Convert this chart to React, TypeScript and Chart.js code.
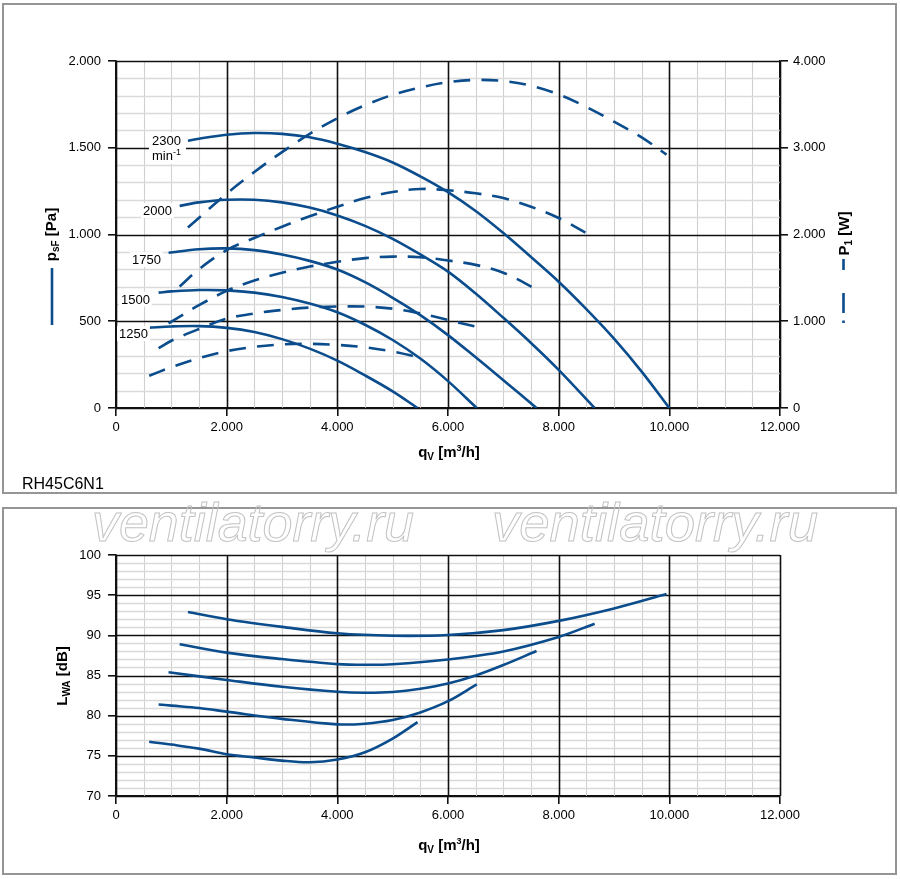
import React, { useEffect, useRef } from 'react';
import { Chart, registerables } from 'chart.js';

Chart.register(...registerables);

const FONT = '"Liberation Sans", Arial, Helvetica, sans-serif';
const BLUE = '#0b4c8c';
const MAJOR = '#111111';
const MINOR_V = '#d0d0d0';
const MINOR_H = '#dadada';

// ---------- Top chart: static pressure p_sF [Pa] (solid, left axis) ----------
const Q_P2300 = [1300, 1500, 2000, 2500, 3000, 3500, 4000, 4500, 5000, 5500, 6000, 6500, 7000, 7500, 8000, 8500, 9000, 9500, 10000];
const P_2300 = [1540, 1552, 1575, 1585, 1580, 1560, 1523, 1475, 1415, 1335, 1244, 1135, 1008, 870, 728, 570, 400, 210, 0];
const Q_P2000 = [1150, 1500, 2000, 2500, 3000, 3500, 4000, 4500, 5000, 5500, 6000, 6500, 7000, 7500, 8000, 8650];
const P_2000 = [1165, 1185, 1200, 1200, 1185, 1155, 1110, 1050, 975, 885, 786, 660, 520, 375, 220, 0];
const Q_P1750 = [950, 1500, 2000, 2500, 3000, 3500, 4000, 4500, 5000, 5500, 6000, 6500, 7000, 7600];
const P_1750 = [895, 915, 920, 910, 885, 848, 798, 725, 635, 535, 420, 292, 160, 0];
const Q_P1500 = [770, 1000, 1500, 2000, 2500, 3000, 3500, 4000, 4500, 5000, 5500, 6000, 6520];
const P_1500 = [665, 672, 680, 678, 665, 640, 602, 552, 480, 392, 285, 155, 0];
const Q_P1250 = [600, 1000, 1500, 2000, 2500, 3000, 3500, 4000, 4500, 5000, 5450];
const P_1250 = [463, 470, 472, 462, 438, 397, 342, 273, 188, 96, 0];

// ---------- Top chart: input power P1 [W] (dashed, right axis) ----------
const Q_W2300 = [1300, 2000, 2500, 3000, 3500, 4000, 4500, 5000, 5500, 6000, 6500, 7000, 7500, 8000, 8500, 9000, 9500, 9950];
const W_2300 = [2080, 2470, 2720, 2950, 3160, 3340, 3490, 3610, 3695, 3755, 3782, 3770, 3715, 3615, 3470, 3300, 3120, 2920];
const Q_W2000 = [1150, 1500, 2000, 2500, 3000, 3500, 4000, 4500, 5000, 5500, 6000, 6500, 7000, 7500, 8000, 8650];
const W_2000 = [1400, 1600, 1820, 1960, 2090, 2210, 2320, 2420, 2490, 2525, 2510, 2475, 2420, 2320, 2190, 1960];
const Q_W1750 = [950, 1500, 2000, 2500, 3000, 3500, 4000, 4500, 5000, 5500, 6000, 6500, 7000, 7600];
const W_1750 = [976, 1185, 1350, 1470, 1560, 1630, 1685, 1728, 1745, 1738, 1700, 1650, 1560, 1368];
const Q_W1500 = [770, 1000, 1500, 2000, 2500, 3000, 3500, 4000, 4500, 5000, 5500, 6000, 6520];
const W_1500 = [690, 775, 910, 1030, 1090, 1130, 1158, 1170, 1169, 1145, 1090, 1015, 935];
const Q_W1250 = [600, 1000, 1500, 2000, 2500, 3000, 3500, 4000, 4500, 5000, 5450];
const W_1250 = [372, 470, 575, 655, 705, 733, 740, 727, 700, 650, 588];

// ---------- Bottom chart: sound power L_WA [dB] ----------
const Q_L2300 = [1300, 2000, 3000, 4000, 5000, 6000, 7000, 8000, 9000, 9950];
const L_2300 = [92.9, 92.0, 91.05, 90.25, 89.95, 90.05, 90.65, 91.8, 93.35, 95.15];
const Q_L2000 = [1150, 2000, 3000, 4000, 4500, 5000, 6000, 7000, 8000, 8650];
const L_2000 = [88.9, 87.85, 87.05, 86.42, 86.33, 86.4, 87.0, 88.0, 89.8, 91.45];
const Q_L1750 = [950, 2000, 3000, 4000, 4500, 5000, 5500, 6000, 6500, 7000, 7600];
const L_1750 = [85.4, 84.45, 83.6, 82.97, 82.85, 82.95, 83.35, 84.0, 85.0, 86.3, 88.05];
const Q_L1500 = [770, 1000, 1500, 2000, 3000, 4000, 4500, 5000, 5500, 6000, 6520];
const L_1500 = [81.4, 81.25, 80.95, 80.5, 79.6, 78.92, 79.0, 79.45, 80.4, 81.8, 83.9];
const Q_L1250 = [600, 1000, 1500, 2000, 2500, 3000, 3500, 4000, 4500, 5000, 5450];
const L_1250 = [76.75, 76.4, 75.9, 75.2, 74.8, 74.4, 74.2, 74.55, 75.45, 77.15, 79.2];

// ---------- Labels ----------
const SPEED_LABELS = ['2300', '2000', '1750', '1500', '1250'];
const WATERMARK = 'ventilatorry.ru';
const MODEL = 'RH45C6N1';

const fmt = (v: number) =>
  v >= 1000 ? `${Math.floor(v / 1000)}.${String(v % 1000).padStart(3, '0')}` : String(v);

const pts = (q: number[], v: number[]) => q.map((x, i) => ({ x, y: v[i] }));

type Part = { t: string; s: number; b?: boolean; dy?: number };
function drawRich(ctx: CanvasRenderingContext2D, parts: Part[], x: number, y: number, align: 'left' | 'center') {
  ctx.save();
  ctx.textBaseline = 'alphabetic';
  ctx.textAlign = 'left';
  const f = (p: Part) => `${p.b ? 'bold ' : ''}${p.s}px ${FONT}`;
  let w = 0;
  for (const p of parts) {
    ctx.font = f(p);
    w += ctx.measureText(p.t).width;
  }
  let cx = align === 'center' ? x - w / 2 : x;
  for (const p of parts) {
    ctx.font = f(p);
    ctx.fillText(p.t, cx, y + (p.dy || 0));
    cx += ctx.measureText(p.t).width;
  }
  ctx.restore();
  return w;
}

const solid = (data: { x: number; y: number }[], axis: string) => ({
  data,
  yAxisID: axis,
  borderColor: BLUE,
  borderWidth: 2.6,
  pointRadius: 0,
  fill: false,
  tension: 0.35,
});
const dashed = (data: { x: number; y: number }[], axis: string) => ({
  ...solid(data, axis),
  borderDash: [17, 11],
});

const isMajor = (v: number, base: number, step: number) => Math.abs(((v - base) / step) - Math.round((v - base) / step)) < 1e-6;

const xScale = (height: number) => ({
  type: 'linear' as const,
  position: 'bottom' as const,
  min: 0,
  max: 12000,
  afterFit: (s: any) => {
    s.height = height;
  },
  ticks: {
    stepSize: 500,
    autoSkip: false,
    maxRotation: 0,
    padding: 4,
    color: '#000',
    font: { size: 13, family: FONT },
    callback: (v: any) => (isMajor(Number(v), 0, 2000) ? fmt(Number(v)) : ''),
  },
  grid: {
    drawOnChartArea: false,
    color: MAJOR,
    lineWidth: 1.6,
    tickColor: (c: any) => (c.tick && isMajor(c.tick.value, 0, 2000) ? MAJOR : 'rgba(0,0,0,0)'),
    tickLength: 8,
    tickWidth: 1.6,
  },
  border: { display: true, color: MAJOR, width: 1.6 },
  title: { display: false },
});

const yScale = (min: number, max: number, step: number, major: number, width: number) => ({
  type: 'linear' as const,
  position: 'left' as const,
  min,
  max,
  afterFit: (s: any) => {
    s.width = width;
  },
  ticks: {
    stepSize: step,
    autoSkip: false,
    padding: 7,
    color: '#000',
    font: { size: 13, family: FONT },
    callback: (v: any) => (isMajor(Number(v), min, major) ? fmt(Number(v)) : ''),
  },
  grid: {
    drawOnChartArea: false,
    color: MAJOR,
    lineWidth: 1.6,
    tickColor: (c: any) => (c.tick && isMajor(c.tick.value, min, major) ? MAJOR : 'rgba(0,0,0,0)'),
    tickLength: 8,
    tickWidth: 1.6,
  },
  border: { display: true, color: MAJOR, width: 1.6 },
});

// grid drawn in two passes (minor first, then major) using the scales' own ticks
const makeGrid = (xMajor: number, yMajor: number) => ({
  id: 'twoPassGrid',
  beforeDatasetsDraw(chart: any) {
    const ctx: CanvasRenderingContext2D = chart.ctx;
    const a = chart.chartArea;
    const xs = chart.scales.x;
    const ys = chart.scales.y;
    const xT = xs.ticks.map((t: any) => t.value);
    const yT = ys.ticks.map((t: any) => t.value);
    const vline = (v: number) => {
      const p = Math.round(xs.getPixelForValue(v)) + 0.5;
      ctx.moveTo(p, a.top);
      ctx.lineTo(p, a.bottom);
    };
    const hline = (v: number) => {
      const p = Math.round(ys.getPixelForValue(v)) + 0.5;
      ctx.moveTo(a.left, p);
      ctx.lineTo(a.right, p);
    };
    ctx.save();
    ctx.lineWidth = 1.1;
    ctx.strokeStyle = MINOR_V;
    ctx.beginPath();
    xT.filter((v: number) => !isMajor(v, xs.min, xMajor)).forEach(vline);
    ctx.stroke();
    ctx.lineWidth = 1.4;
    ctx.strokeStyle = MINOR_H;
    ctx.beginPath();
    yT.filter((v: number) => !isMajor(v, ys.min, yMajor)).forEach(hline);
    ctx.stroke();
    ctx.lineWidth = 1.6;
    ctx.strokeStyle = MAJOR;
    ctx.beginPath();
    xT.filter((v: number) => isMajor(v, xs.min, xMajor)).forEach(vline);
    yT.filter((v: number) => isMajor(v, ys.min, yMajor)).forEach(hline);
    ctx.stroke();
    ctx.restore();
  },
});

function labelBox(ctx: CanvasRenderingContext2D, text: string, x: number, base: number) {
  ctx.font = `13px ${FONT}`;
  const w = ctx.measureText(text).width;
  ctx.fillStyle = '#fff';
  ctx.fillRect(x - 2, base - 12, w + 4, 15);
  ctx.fillStyle = '#000';
  ctx.textBaseline = 'alphabetic';
  ctx.textAlign = 'left';
  ctx.fillText(text, x, base);
}

const qTitle: Part[] = [
  { t: 'q', s: 15, b: true },
  { t: 'V', s: 10, b: true, dy: 3 },
  { t: ' [m', s: 15, b: true },
  { t: '3', s: 9, b: true, dy: -6 },
  { t: '/h]', s: 15, b: true },
];

const topDecor = {
  id: 'topDecor',
  afterDraw(chart: any) {
    const ctx: CanvasRenderingContext2D = chart.ctx;
    ctx.save();
    ctx.fillStyle = '#000';
    drawRich(ctx, qTitle, 449, 457, 'center');
    drawRich(ctx, [{ t: MODEL, s: 16 }], 22, 488.5, 'left');

    // left axis title + legend sample
    ctx.save();
    ctx.translate(56, 234.5);
    ctx.rotate(-Math.PI / 2);
    drawRich(
      ctx,
      [
        { t: 'p', s: 15, b: true },
        { t: 'sF', s: 10, b: true, dy: 3 },
        { t: ' [Pa]', s: 15, b: true },
      ],
      0,
      0,
      'center'
    );
    ctx.restore();
    ctx.strokeStyle = BLUE;
    ctx.lineWidth = 2.6;
    ctx.beginPath();
    ctx.moveTo(52, 268);
    ctx.lineTo(52, 325);
    ctx.stroke();

    // right axis title + legend sample
    ctx.save();
    ctx.translate(849, 233.5);
    ctx.rotate(-Math.PI / 2);
    drawRich(
      ctx,
      [
        { t: 'P', s: 15, b: true },
        { t: '1', s: 10, b: true, dy: 3 },
        { t: ' [W]', s: 15, b: true },
      ],
      0,
      0,
      'center'
    );
    ctx.restore();
    ctx.beginPath();
    ctx.moveTo(843.5, 259);
    ctx.lineTo(843.5, 270);
    ctx.moveTo(843.5, 293);
    ctx.lineTo(843.5, 313);
    ctx.moveTo(843.5, 320.5);
    ctx.lineTo(843.5, 323);
    ctx.stroke();

    // speed labels
    ctx.font = `13px ${FONT}`;
    const w1 = ctx.measureText('min').width;
    ctx.font = `9px ${FONT}`;
    const w2 = ctx.measureText('-1').width;
    ctx.fillStyle = '#fff';
    ctx.fillRect(149, 132, Math.max(w1 + w2, 30) + 7, 32);
    ctx.fillStyle = '#000';
    drawRich(ctx, [{ t: SPEED_LABELS[0], s: 13 }], 152, 145, 'left');
    drawRich(
      ctx,
      [
        { t: 'min', s: 13 },
        { t: '-1', s: 9, dy: -5 },
      ],
      152,
      160,
      'left'
    );
    labelBox(ctx, SPEED_LABELS[1], 143, 215);
    labelBox(ctx, SPEED_LABELS[2], 132, 264);
    labelBox(ctx, SPEED_LABELS[3], 121, 303.5);
    labelBox(ctx, SPEED_LABELS[4], 119, 338);
    ctx.restore();
  },
};

const botDecor = {
  id: 'botDecor',
  afterDraw(chart: any) {
    const ctx: CanvasRenderingContext2D = chart.ctx;
    ctx.save();
    ctx.fillStyle = '#000';
    drawRich(ctx, qTitle, 449, 350, 'center');
    ctx.save();
    ctx.translate(67, 176);
    ctx.rotate(-Math.PI / 2);
    drawRich(
      ctx,
      [
        { t: 'L', s: 15, b: true },
        { t: 'WA', s: 10, b: true, dy: 3 },
        { t: ' [dB]', s: 15, b: true },
      ],
      0,
      0,
      'center'
    );
    ctx.restore();
    ctx.restore();
  },
};

export default function App() {
  const topRef = useRef<HTMLCanvasElement>(null);
  const botRef = useRef<HTMLCanvasElement>(null);
  const wmRef = useRef<HTMLCanvasElement>(null);

  useEffect(() => {
    Chart.defaults.font.family = FONT;
    Chart.defaults.color = '#000';

    const top = new Chart(topRef.current as HTMLCanvasElement, {
      type: 'line',
      data: {
        datasets: [
          solid(pts(Q_P2300, P_2300), 'y'),
          solid(pts(Q_P2000, P_2000), 'y'),
          solid(pts(Q_P1750, P_1750), 'y'),
          solid(pts(Q_P1500, P_1500), 'y'),
          solid(pts(Q_P1250, P_1250), 'y'),
          dashed(pts(Q_W2300, W_2300), 'y1'),
          dashed(pts(Q_W2000, W_2000), 'y1'),
          dashed(pts(Q_W1750, W_1750), 'y1'),
          dashed(pts(Q_W1500, W_1500), 'y1'),
          dashed(pts(Q_W1250, W_1250), 'y1'),
        ] as any,
      },
      options: {
        responsive: false,
        animation: false,
        layout: { padding: { top: 61, left: 0, right: 0, bottom: 0 } },
        plugins: { legend: { display: false }, tooltip: { enabled: false } },
        scales: {
          x: xScale(92) as any,
          y: yScale(0, 2000, 100, 500, 116) as any,
          y1: {
            type: 'linear',
            position: 'right',
            min: 0,
            max: 4000,
            afterFit: (s: any) => {
              s.width = 120;
            },
            ticks: {
              stepSize: 1000,
              padding: 5,
              color: '#000',
              font: { size: 13, family: FONT },
              callback: (v: any) => fmt(Number(v)),
            },
            grid: { drawOnChartArea: false, color: MAJOR, tickColor: MAJOR, tickLength: 8, lineWidth: 1.6 },
            border: { display: true, color: MAJOR, width: 1.6 },
          } as any,
        },
      },
      plugins: [makeGrid(2000, 500), topDecor],
    });

    const bot = new Chart(botRef.current as HTMLCanvasElement, {
      type: 'line',
      data: {
        datasets: [
          solid(pts(Q_L2300, L_2300), 'y'),
          solid(pts(Q_L2000, L_2000), 'y'),
          solid(pts(Q_L1750, L_1750), 'y'),
          solid(pts(Q_L1500, L_1500), 'y'),
          solid(pts(Q_L1250, L_1250), 'y'),
        ] as any,
      },
      options: {
        responsive: false,
        animation: false,
        layout: { padding: { top: 55, left: 0, right: 120, bottom: 0 } },
        plugins: { legend: { display: false }, tooltip: { enabled: false } },
        scales: {
          x: xScale(83) as any,
          y: yScale(70, 100, 1, 5, 116) as any,
        },
      },
      plugins: [makeGrid(2000, 5), botDecor],
    });

    // watermark (outlined text)
    const wc = wmRef.current as HTMLCanvasElement;
    const wctx = wc.getContext('2d') as CanvasRenderingContext2D;
    wctx.clearRect(0, 0, wc.width, wc.height);
    const drawWm = (x: number, target: number) => {
      wctx.save();
      wctx.font = `italic 54px ${FONT}`;
      const mw = wctx.measureText(WATERMARK).width;
      wctx.translate(x, 61);
      wctx.scale(target / mw, 1);
      wctx.strokeStyle = '#c2c2c2';
      wctx.lineWidth = 1;
      wctx.strokeText(WATERMARK, 0, 0);
      wctx.restore();
    };
    drawWm(92, 322);
    drawWm(492, 326);

    return () => {
      top.destroy();
      bot.destroy();
    };
  }, []);

  const panel = (top: number, height: number): React.CSSProperties => ({
    position: 'absolute',
    left: 2,
    top,
    width: 895,
    height,
    boxSizing: 'border-box',
    border: '2px solid #959595',
  });

  return (
    <div style={{ position: 'absolute', left: 0, top: 0, width: 900, height: 879, background: '#fff', overflow: 'hidden' }}>
      <div style={panel(3, 491)} />
      <div style={panel(507, 368)} />
      <canvas
        ref={topRef}
        width={900}
        height={500}
        style={{ position: 'absolute', left: 0, top: 0, width: 900, height: 500, display: 'block' }}
      />
      <canvas
        ref={botRef}
        width={900}
        height={379}
        style={{ position: 'absolute', left: 0, top: 500, width: 900, height: 379, display: 'block' }}
      />
      <canvas
        ref={wmRef}
        width={900}
        height={90}
        style={{ position: 'absolute', left: 0, top: 480, width: 900, height: 90, display: 'block', pointerEvents: 'none' }}
      />
    </div>
  );
}
